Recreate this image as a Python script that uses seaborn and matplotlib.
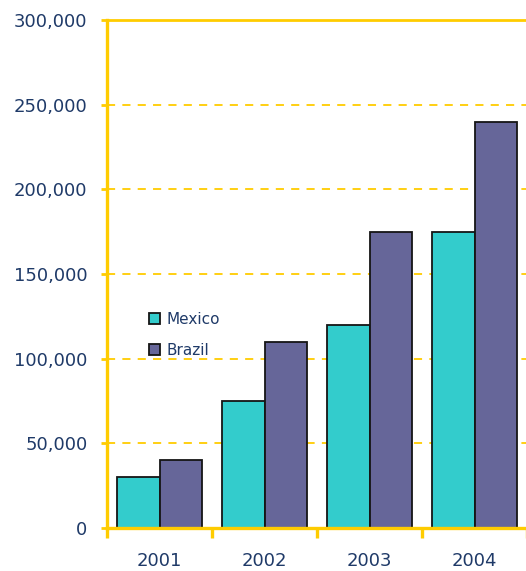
import matplotlib
matplotlib.use("Agg")
import matplotlib.pyplot as plt
from matplotlib.patches import Patch
from matplotlib.ticker import FuncFormatter, FixedLocator
import seaborn as sns
import pandas as pd

years = ["2001", "2002", "2003", "2004"]
mexico = [30000, 75000, 120000, 175000]
brazil = [40000, 110000, 175000, 240000]
series_names = ["Mexico", "Brazil"]
colors = ["#33CCCC", "#666699"]
yticks = [0, 50000, 100000, 150000, 200000, 250000, 300000]

df = pd.DataFrame({
    "Year": years * 2,
    "Value": mexico + brazil,
    "Country": ["Mexico"] * len(years) + ["Brazil"] * len(years),
})

sns.set_style("white")
plt.rcParams["font.family"] = ["DejaVu Sans"]

text_color = "#1F3A68"
yellow = "#FFCC00"

fig = plt.figure(figsize=(5.26, 5.71), dpi=100)
ax = fig.add_axes([107 / 526, 43 / 571, 420 / 526, 508 / 571])

sns.barplot(data=df, x="Year", y="Value", hue="Country", order=years,
            hue_order=series_names, palette=colors, ax=ax, width=0.81,
            edgecolor="#151515", linewidth=1.3, legend=False, saturation=1)

ax.set_xlim(-0.5, 3.5)
ax.set_ylim(0, 300000)

# gridlines
for v in yticks[1:-1]:
    ax.axhline(v, color=yellow, lw=1.3, ls=(0, (4.5, 4)), zorder=0)
ax.axhline(300000, color=yellow, lw=2.0, zorder=0, clip_on=False)

for s in ["top", "right"]:
    ax.spines[s].set_visible(False)
for s in ["left", "bottom"]:
    ax.spines[s].set_color(yellow)
    ax.spines[s].set_linewidth(2.4)

ax.yaxis.set_major_locator(FixedLocator(yticks))
ax.yaxis.set_major_formatter(FuncFormatter(lambda v, p: f"{int(v):,}"))
ax.tick_params(axis="y", length=4, width=2, color=yellow, pad=10,
               labelsize=13, labelcolor=text_color, left=True)

ax.set_xticks(range(len(years)))
ax.set_xticklabels(years)
ax.set_xticks([-0.5, 0.5, 1.5, 2.5, 3.5], minor=True)
ax.tick_params(axis="x", which="major", length=0, pad=17,
               labelsize=13, labelcolor=text_color)
ax.tick_params(axis="x", which="minor", length=7, width=2.4, color=yellow,
               bottom=True)

ax.set_xlabel("")
ax.set_ylabel("")

handles = [Patch(facecolor=c, edgecolor="#151515", linewidth=1.3) for c in colors]
leg = fig.legend(handles, series_names, loc="upper left",
                 bbox_to_anchor=(135 / 526, 1 - 298 / 571), frameon=False,
                 handlelength=0.75, handleheight=0.75, handletextpad=0.4,
                 labelspacing=1.05, fontsize=11, labelcolor=text_color)

fig.savefig("out.png", dpi=100)
